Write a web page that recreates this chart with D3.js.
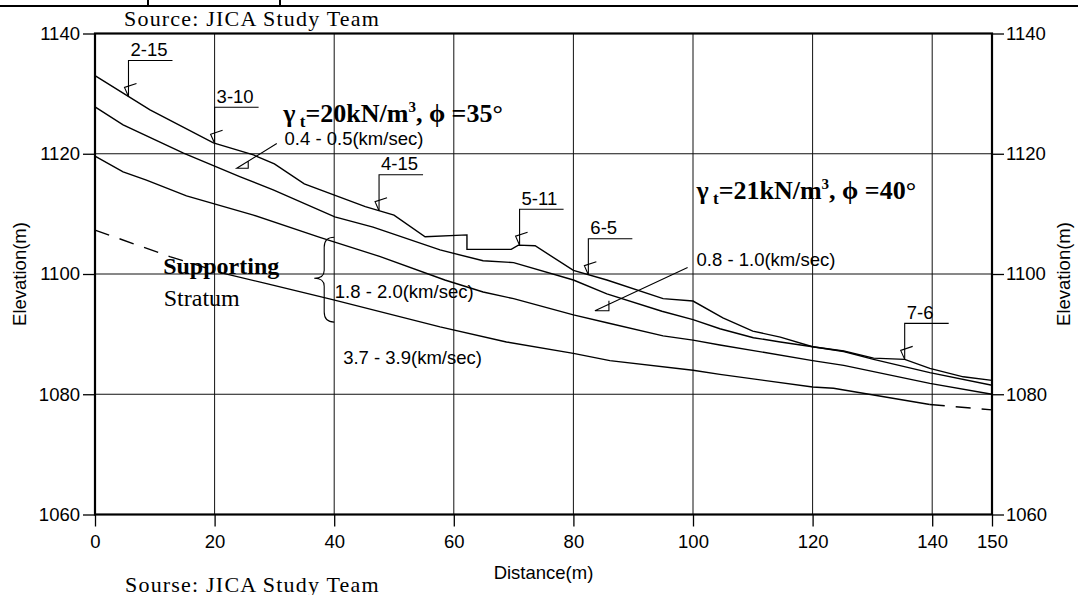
<!doctype html>
<html>
<head>
<meta charset="utf-8">
<script src="https://cdnjs.cloudflare.com/ajax/libs/d3/7.8.5/d3.min.js"></script>
<style>
    body { margin: 0; background: #fff; }
    svg { display: block; }
    .sans { font-family: "Liberation Sans", Arial, sans-serif; font-size: 18.5px; fill: #000; }
    .serif { font-family: "Liberation Serif", "Times New Roman", serif; fill: #000; }
    .layer { fill: none; stroke: #000; stroke-width: 1.4; }
    .grid { stroke: #111; stroke-width: 1; }
    .thin { fill: none; stroke: #000; stroke-width: 1.1; }
</style>
</head>
<body>
<svg width="1078" height="595"></svg>
<script>
    //Profile data: [distance (m), elevation (m)]
    var groundSurface = [[0,1133],[9.2,1127.3],[19.8,1121.8],[26.5,1119.8],[30,1118.3],[35,1115],
        [45.2,1111.2],[50,1109.8],[55.2,1106.2],[62.2,1106.5],[62.2,1104.1],[69.6,1104.1],
        [70.8,1104.8],[73.6,1104.7],[80,1100.6],[85.6,1099],[95,1095.9],[100,1095.5],
        [105,1092.7],[110,1090.5],[114.6,1089.5],[120,1087.9],[125.2,1087.2],[130.2,1086],
        [135.4,1085.8],[139.6,1084.3],[145.2,1082.9],[150,1082.3]];
    var layer2Top = [[0,1127.8],[4.7,1124.8],[14.8,1120.1],[24.2,1116.2],[29.8,1114],[40.1,1109.5],
        [46.5,1107.8],[57.7,1104],[64.9,1102.2],[70,1101.9],[80,1099],[85.6,1096.7],[94.8,1093.8],
        [100,1092.4],[104.5,1090.9],[110.1,1089.4],[114.6,1088.7],[120,1087.9],[125.2,1087.1],
        [130.2,1085.8],[139.6,1083.6],[150,1081.5]];
    var layer3Top = [[0,1119.6],[4.7,1117],[8.6,1115.6],[15.3,1113],[26.5,1109.8],[37.6,1106.1],
        [47.7,1102.9],[58.5,1099],[64.9,1097],[70,1095.9],[80,1093.2],[85.6,1091.9],[95,1089.7],
        [100,1089],[104.5,1088.2],[120,1085.6],[125.2,1084.8],[139.6,1081.8],[150,1080]];
    var rockTopLeft = [[0,1107.3],[12.5,1102.9],[21.5,1100.1]];
    var rockTop = [[21.5,1100.1],[28.7,1098.4],[39.9,1095.7],[57.7,1091.2],[68.8,1088.7],[80,1086.8],
        [86.1,1085.6],[100,1084],[104.5,1083.3],[120,1081.2],[123.5,1081],[139.6,1078.3]];
    var rockTopRight = [[139.6,1078.3],[150,1077.4]];

    var boreholeNames = ["2-15", "3-10", "4-15", "5-11", "6-5", "7-6"];
    var boreholeDist = [5.6, 20, 47.5, 71, 82.5, 135.4];

    var velocityLabels = ["0.4 - 0.5(km/sec)", "0.8 - 1.0(km/sec)", "1.8 - 2.0(km/sec)", "3.7 - 3.9(km/sec)"];

    var xTicks = [0, 20, 40, 60, 80, 100, 120, 140, 150];
    var yTicks = [1060, 1080, 1100, 1120, 1140];

    //SVG canvas
    var svg = d3.select("svg"),
        marginLeft = 95, marginTop = 33.5,
        width = 897, height = 481;

    var x = d3.scaleLinear().domain([0, 150]).range([0, width]),
        y = d3.scaleLinear().domain([1060, 1140]).range([height, 0]);

    //table border remnant at top of page
    svg.append("line").attr("x1", 0).attr("x2", 1078).attr("y1", 6).attr("y2", 6)
       .attr("stroke", "#000").attr("stroke-width", 2);
    [148, 280].forEach(function(px) {
        svg.append("line").attr("x1", px).attr("x2", px).attr("y1", 0).attr("y2", 6)
           .attr("stroke", "#000").attr("stroke-width", 2);
    });

    //Captions
    svg.append("text").attr("class", "serif")
       .attr("x", 124).attr("y", 26)
       .attr("font-size", "22px").attr("letter-spacing", "1.2px")
       .text("Source: JICA Study Team");
    svg.append("text").attr("class", "serif")
       .attr("x", 125).attr("y", 591.5)
       .attr("font-size", "22px").attr("letter-spacing", "1.2px")
       .text("Sourse: JICA Study Team");

    var g = svg.append("g")
        .attr("transform", "translate(" + marginLeft + "," + marginTop + ")");

    //Grid
    g.selectAll(".vgrid")
     .data(xTicks.filter(function(d) { return d > 0 && d < 150; }))
     .enter().append("line").attr("class", "grid")
     .attr("x1", function(d) { return x(d); }).attr("x2", function(d) { return x(d); })
     .attr("y1", 0).attr("y2", height);
    g.selectAll(".hgrid")
     .data(yTicks.filter(function(d) { return d > 1060 && d < 1140; }))
     .enter().append("line").attr("class", "grid")
     .attr("x1", 0).attr("x2", width)
     .attr("y1", function(d) { return y(d); }).attr("y2", function(d) { return y(d); });

    //Axes
    function styleAxis(sel) {
        sel.select(".domain").remove();
        sel.selectAll("line").attr("stroke", "#000").attr("stroke-width", 1.3);
        sel.selectAll("text").attr("class", "sans");
    }
    g.append("g")
     .attr("transform", "translate(0," + height + ")")
     .call(d3.axisBottom(x).tickValues(xTicks).tickFormat(d3.format("d")).tickSize(12).tickPadding(8))
     .call(styleAxis);
    g.append("g")
     .call(d3.axisLeft(y).tickValues(yTicks).tickFormat(d3.format("d")).tickSize(12).tickPadding(3))
     .call(styleAxis);
    g.append("g")
     .attr("transform", "translate(" + width + ",0)")
     .call(d3.axisRight(y).tickValues(yTicks).tickFormat(d3.format("d")).tickSize(12).tickPadding(2))
     .call(styleAxis);

    g.append("rect")
     .attr("width", width).attr("height", height)
     .attr("fill", "none").attr("stroke", "#000").attr("stroke-width", 2.2);

    //Axis titles
    svg.append("text").attr("class", "sans")
       .attr("text-anchor", "middle")
       .attr("x", marginLeft + width / 2).attr("y", 579)
       .text("Distance(m)");
    svg.append("text").attr("class", "sans")
       .attr("text-anchor", "middle")
       .attr("transform", "translate(26," + (marginTop + height / 2) + ") rotate(-90)")
       .text("Elevation(m)");
    svg.append("text").attr("class", "sans")
       .attr("text-anchor", "middle")
       .attr("transform", "translate(1070," + (marginTop + height / 2) + ") rotate(-90)")
       .text("Elevation(m)");

    //Layer boundaries
    var line = d3.line()
        .x(function(d) { return x(d[0]); })
        .y(function(d) { return y(d[1]); });

    [groundSurface, layer2Top, layer3Top, rockTop].forEach(function(s) {
        g.append("path").attr("class", "layer").attr("d", line(s));
    });
    [rockTopLeft, rockTopRight].forEach(function(s) {
        g.append("path").attr("class", "layer")
         .attr("stroke-dasharray", "15,11").attr("d", line(s));
    });

    //Borehole markers
    function groundAt(d) {
        for (var i = 1; i < groundSurface.length; i++) {
            var a = groundSurface[i - 1], b = groundSurface[i];
            if (d >= a[0] && d <= b[0] && b[0] > a[0]) {
                return a[1] + (b[1] - a[1]) * (d - a[0]) / (b[0] - a[0]);
            }
        }
        return groundSurface[groundSurface.length - 1][1];
    }
    boreholeNames.forEach(function(name, i) {
        var bx = x(boreholeDist[i]), by = y(groundAt(boreholeDist[i])), ty = by - 36;
        g.append("path").attr("class", "thin")
         .attr("d", "M" + (bx + 44) + "," + ty + "H" + bx + "V" + by);
        g.append("path").attr("class", "thin")
         .attr("d", "M" + bx + "," + by + "L" + (bx - 4) + "," + (by - 9) + "L" + (bx + 8) + "," + (by - 13));
        g.append("text").attr("class", "sans")
         .attr("x", bx + 2).attr("y", ty - 4.5)
         .text(name);
    });

    //Velocity labels
    var velPos = [[31.7, 1121.4], [100.6, 1101.4], [40.1, 1096], [41.5, 1085]];
    velocityLabels.forEach(function(t, i) {
        g.append("text").attr("class", "sans")
         .attr("x", x(velPos[i][0])).attr("y", y(velPos[i][1]))
         .text(t);
    });

    //Leaders with small triangle heads
    function leader(x0, y0, x1, y1, w, h) {
        var sx = x(x0), sy = y(y0), ex = x(x1), ey = y(y1);
        g.append("path").attr("class", "thin")
         .attr("d", "M" + sx + "," + sy + "L" + ex + "," + ey + "H" + (ex + w) + "V" + (ey - h));
    }
    leader(30.4, 1121.7, 23.7, 1117.6, 11.5, 7);
    leader(99.1, 1101.1, 83.6, 1093.9, 14, 10);

    //Brace for the 1.8 - 2.0 layer
    var rx = x(40), bt = y(1106.1), bb = y(1092), bm = y(1099.3);
    g.append("path").attr("class", "thin")
     .attr("d", "M" + rx + "," + bt + "Q" + (rx - 10) + "," + bt + " " + (rx - 10) + "," + (bt + 10) +
        "L" + (rx - 10) + "," + (bm - 8) + "Q" + (rx - 10) + "," + bm + " " + (rx - 20) + "," + bm +
        "Q" + (rx - 10) + "," + bm + " " + (rx - 10) + "," + (bm + 8) +
        "L" + (rx - 10) + "," + (bb - 10) + "Q" + (rx - 10) + "," + bb + " " + rx + "," + bb);

    //Supporting stratum
    g.append("text").attr("class", "serif")
     .attr("x", x(11.4)).attr("y", y(1100))
     .attr("font-size", "24px").attr("font-weight", "bold")
     .text("Supporting");
    g.append("text").attr("class", "serif")
     .attr("x", x(11.5)).attr("y", y(1094.7))
     .attr("font-size", "24px")
     .text("Stratum");

    //Soil parameters
    function soilLabel(px, py, gam, phi) {
        var t = g.append("text").attr("class", "serif")
            .attr("x", x(px)).attr("y", y(py))
            .attr("font-size", "26px").attr("font-weight", "bold");
        t.append("tspan").text("γ");
        t.append("tspan").attr("dy", 5).attr("font-size", "17px").text(" t");
        t.append("tspan").attr("dy", -5).text("=" + gam + "kN/m");
        t.append("tspan").attr("dy", -10).attr("font-size", "15px").text("3");
        t.append("tspan").attr("dy", 10).text(", ϕ =" + phi + "°");
    }
    soilLabel(31.5, 1125.3, 20, 35);
    soilLabel(100.6, 1112.4, 21, 40);
</script>
</body>
</html>
